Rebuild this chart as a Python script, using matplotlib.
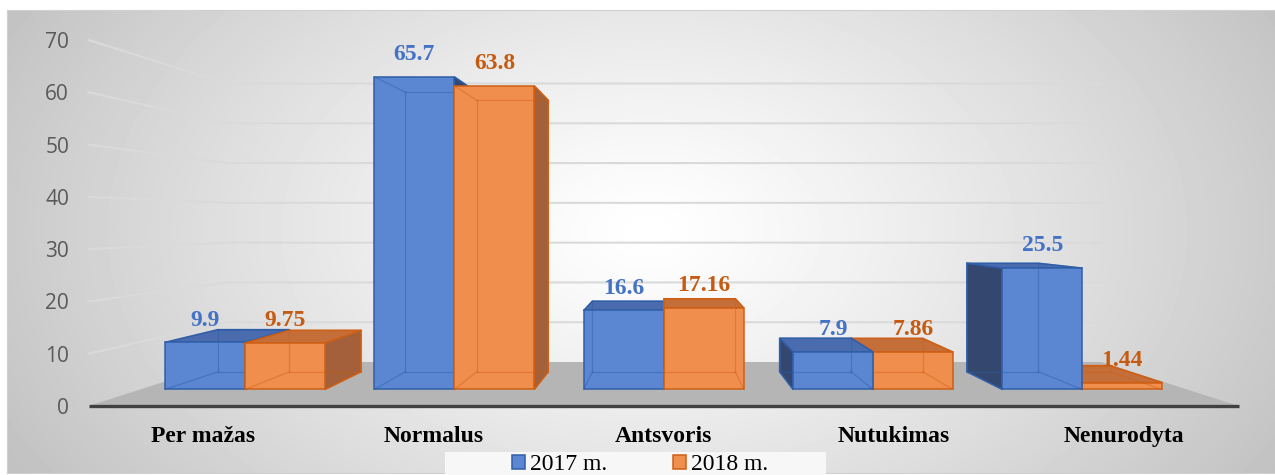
import numpy as np
import matplotlib.pyplot as plt
from matplotlib.patches import Polygon, Rectangle, Patch

categories = ['Per mažas', 'Normalus', 'Antsvoris', 'Nutukimas', 'Nenurodyta']
vals_2017 = [9.9, 65.7, 16.6, 7.9, 25.5]
vals_2018 = [9.75, 63.8, 17.16, 7.86, 1.44]
series_names = ['2017 m.', '2018 m.']
y_ticks = [0, 10, 20, 30, 40, 50, 60, 70]

# colours: face, side, top, edge, label
blue = dict(face='#5b86d1', side='#34486f', top='#4a6cae', edge='#2f5ea9', text='#4472c4')
orange = dict(face='#f08e4e', side='#a3603a', top='#c46f3a', edge='#cf5f14', text='#c55a11')

# fake 3D perspective (front floor plane -> bar front -> bar back -> back wall)
VX, VY = 2.51, 35.2
S_FLOOR, S_FRONT, S_BACK, S_WALL = 1.0, 0.91, 0.814, 0.761
BAR_W = 0.382


def proj(x, y, s):
    return VX + s * (x - VX), VY + s * (y - VY)


def draw_box(ax, x0, x1, h, c, z):
    f = [proj(x0, 0, S_FRONT), proj(x1, 0, S_FRONT), proj(x1, h, S_FRONT), proj(x0, h, S_FRONT)]
    b = [proj(x0, 0, S_BACK), proj(x1, 0, S_BACK), proj(x1, h, S_BACK), proj(x0, h, S_BACK)]
    kw = dict(ec=c['edge'], lw=1.1, joinstyle='miter', clip_on=False, zorder=z)
    if x0 > VX:
        ax.add_patch(Polygon([f[0], f[3], b[3], b[0]], fc=c['side'], **kw))
    if x1 < VX:
        ax.add_patch(Polygon([f[1], f[2], b[2], b[1]], fc=c['side'], **kw))
    if h < VY:
        ax.add_patch(Polygon([f[3], f[2], b[2], b[3]], fc=c['top'], **kw))
    ax.add_patch(Polygon(f, fc=c['face'], **kw))
    # hidden edges seen through the glassy bar
    edges = [(b[0], b[1]), (b[1], b[2]), (b[2], b[3]), (b[3], b[0]),
             (f[0], b[0]), (f[1], b[1]), (f[2], b[2]), (f[3], b[3])]
    for p, q in edges:
        ax.plot([p[0], q[0]], [p[1], q[1]], color=c['edge'], lw=0.9, alpha=0.45,
                clip_on=False, zorder=z + 0.1)


fig = plt.figure(figsize=(12.75, 4.75), dpi=100)

# background gradient
bg = fig.add_axes([7 / 1275, 2 / 475, 1268 / 1275, 463 / 475], zorder=-5)
H, W = 463, 1268
yy, xx = np.mgrid[0:H, 0:W]
r = np.sqrt(((xx - 640) / 650) ** 2 + ((yy - 220) / 420) ** 2)
shade = 1 - 0.21 * np.clip(r, 0, 1.4) ** 1.2
bg.imshow(shade, cmap='gray', vmin=0, vmax=1, aspect='auto', interpolation='bilinear')
bg.set_xticks([])
bg.set_yticks([])
for sp in bg.spines.values():
    sp.set_color('#d0d0d0')

ax = fig.add_axes([88.5 / 1275, 69 / 475, 1150 / 1275, 366 / 475])
ax.set_xlim(0, 5)
ax.set_ylim(0, 70)
ax.patch.set_visible(False)
for sp in ax.spines.values():
    sp.set_visible(False)
ax.set_xticks([])
ax.set_yticks(y_ticks)
ax.tick_params(axis='y', length=0, pad=14, labelsize=15, labelcolor='#595959')
for lab in ax.get_yticklabels():
    lab.set_family('Open Sans')

# floor
n = len(categories)
floor = [proj(0, 0, S_FLOOR), proj(n, 0, S_FLOOR), proj(n, 0, S_WALL), proj(0, 0, S_WALL)]
ax.add_patch(Polygon(floor, fc='#b5b5b5', ec='none', zorder=1, clip_on=False))

# gridlines: left side wall + back wall
for v in y_ticks[1:]:
    p0, p1, p2 = proj(0, v, S_FLOOR), proj(0, v, S_WALL), proj(n, v, S_WALL)
    ax.plot([p0[0], p1[0], p2[0]], [p0[1], p1[1], p2[1]], color='#dadada', lw=1.5,
            zorder=0.5, clip_on=False)

ax.plot([0, n], [0, 0], color='#404040', lw=2.4, solid_capstyle='butt', zorder=2, clip_on=False)

# bars
z = 3
for i in range(n):
    xc = i + 0.5
    bars = [(xc - BAR_W, xc, vals_2017[i], blue), (xc, xc + BAR_W, vals_2018[i], orange)]
    if xc > VX:
        bars = bars[::-1]
    for x0, x1, h, c in bars:
        draw_box(ax, x0, x1, h, c, z)
        z += 1
    for x0, x1, h, c in bars:
        ax.annotate(str(h), xy=proj((x0 + x1) / 2, h, S_FRONT), xytext=(0, 12),
                    textcoords='offset points', ha='center', va='baseline',
                    fontsize=17, fontweight='bold', family='Liberation Serif',
                    color=c['text'], zorder=50)
    ax.annotate(categories[i], xy=proj(xc, 0, S_FLOOR), xytext=(0, -26),
                textcoords='offset points', ha='center', va='baseline',
                fontsize=17, fontweight='bold', family='Liberation Serif',
                color='black', annotation_clip=False)

# legend
fig.add_artist(Rectangle((445 / 1275, 0), 381 / 1275, 23 / 475, transform=fig.transFigure,
                         fc='#f7f7f7', ec='none', zorder=1))
handles = [Patch(fc=blue['face'], ec=blue['edge'], lw=1.1),
           Patch(fc=orange['face'], ec=orange['edge'], lw=1.1)]
fig.legend(handles, series_names, ncol=2, loc='lower center', bbox_to_anchor=(640 / 1275, 0),
           frameon=False, prop={'family': 'Liberation Serif', 'size': 17},
           handlelength=0.55, handleheight=0.55, handletextpad=0.2, columnspacing=2.8,
           borderpad=0, borderaxespad=0)

plt.savefig('out.png', dpi=100)
